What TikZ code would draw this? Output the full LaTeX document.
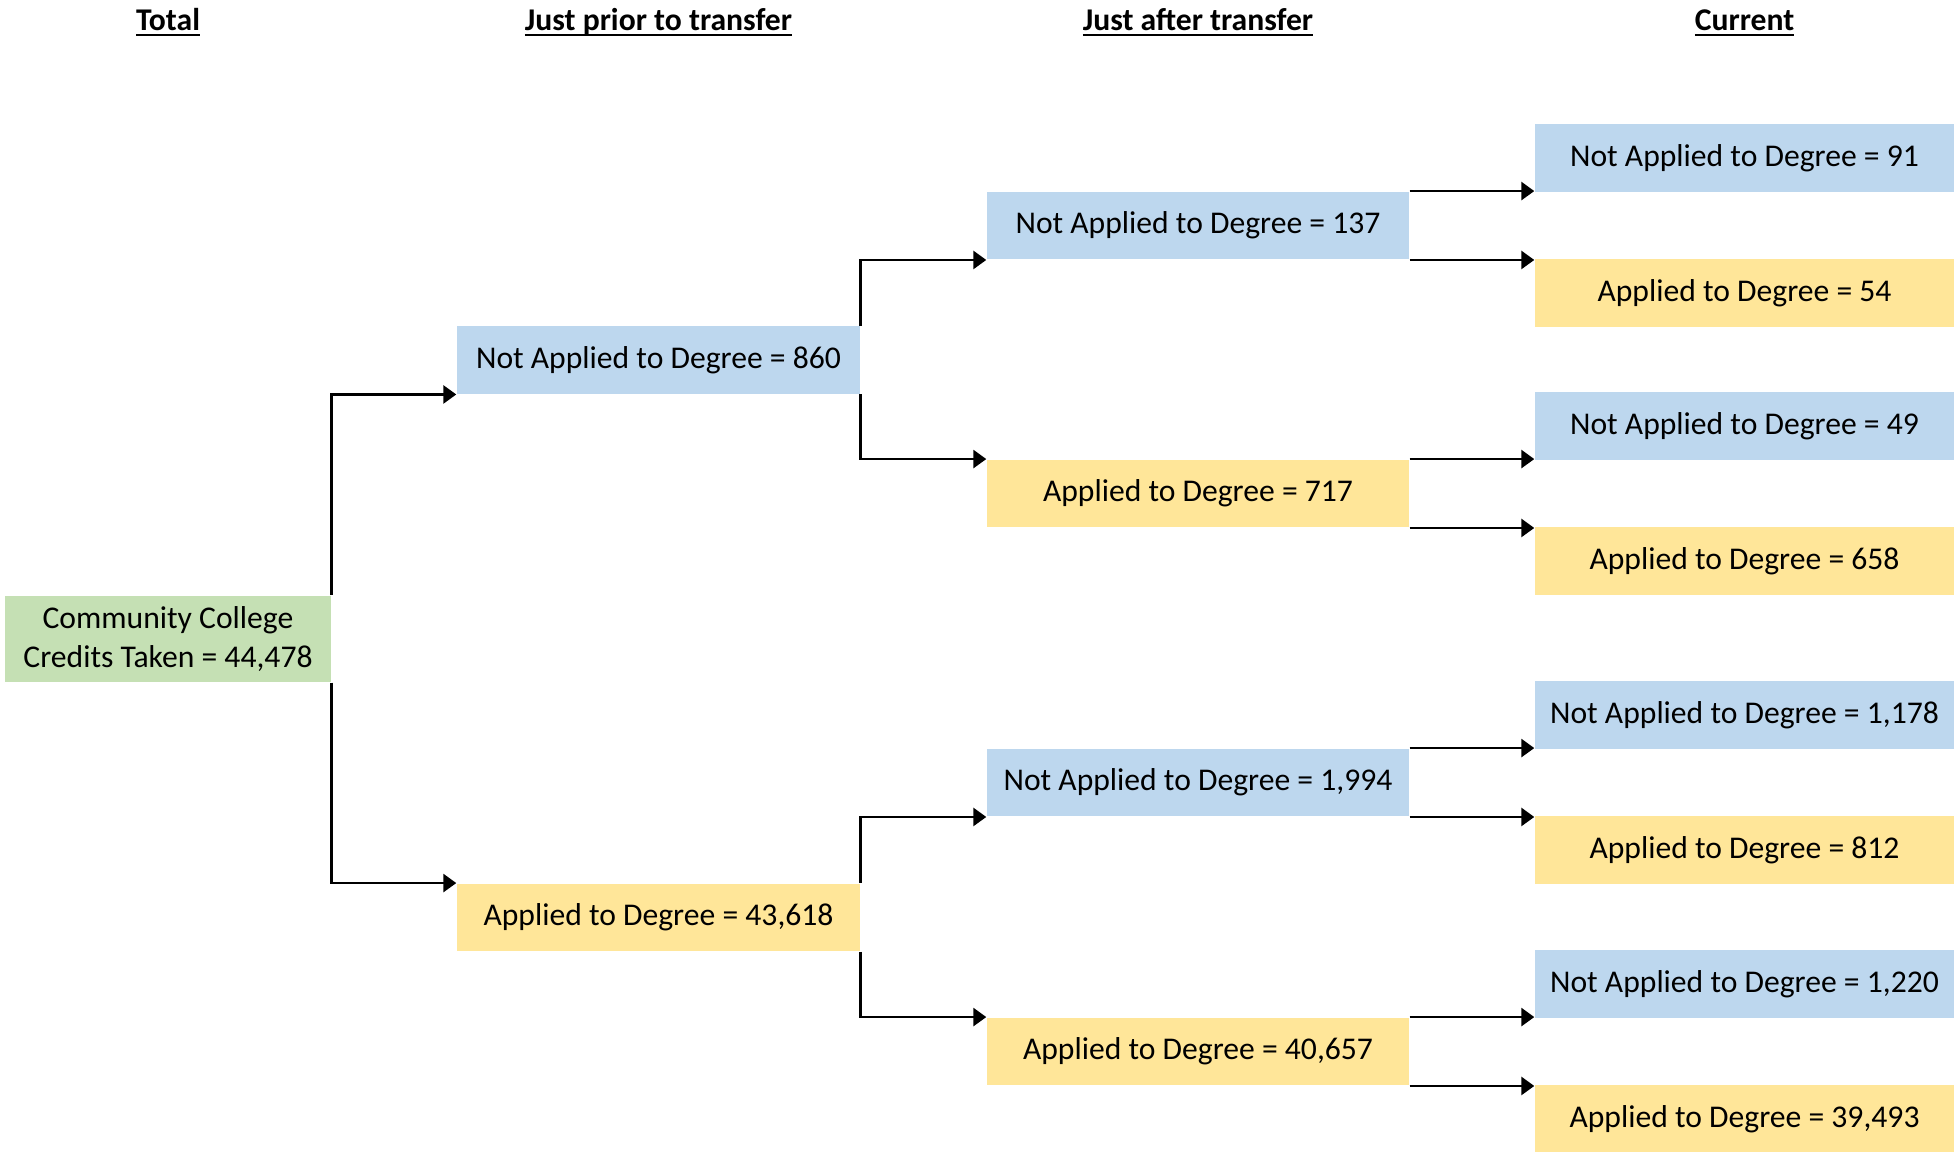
\documentclass[tikz,border=0pt]{standalone}
\usepackage{fontspec}
\setmainfont{Carlito}
\usetikzlibrary{arrows.meta}

\definecolor{notblue}{HTML}{BDD7EE}
\definecolor{appyellow}{HTML}{FFE699}
\definecolor{totgreen}{HTML}{C5E0B4}

% underline at one depth, through the descenders
\newcommand\headline[1]{\underline{\raisebox{0pt}[\height][0pt]{#1}}}

\begin{document}
\begin{tikzpicture}[every node/.append style={font=\fontsize{9}{11}\selectfont},
    box/.style={inner sep=0pt, minimum height=0.675cm, align=center},
    notapp/.style={box, fill=notblue},
    app/.style={box, fill=appyellow},
    head/.style={font=\fontsize{9}{11}\selectfont\bfseries, anchor=base},
    link/.style={line width=0.8pt, -{Triangle[length=1.3mm,width=1.8mm]}}]

    \useasboundingbox (0,0) rectangle (19.54,-11.51);

    \def\xa{1.68}
    \def\xb{6.585}
    \def\xc{11.98}
    \def\xd{17.445}     % last column runs to the right edge

    % column headings
    \node[head] (htot) at (\xa,-0.30) {\headline{Total}};
    \node[head] (hpri) at (\xb,-0.30) {\headline{Just prior to transfer}};
    \node[head] (haft) at (\xc,-0.30) {\headline{Just after transfer}};
    \node[head] (hcur) at (\xd,-0.30) {\headline{Current}};

    % total
    \node[box, fill=totgreen, minimum width=3.26cm, minimum height=0.86cm] (tot) at (\xa,-6.39)
        {Community College\\Credits Taken = 44,478};

    % just prior to transfer
    \node[notapp, minimum width=4.03cm] (p1) at (\xb,-3.60) {Not Applied to Degree = 860};
    \node[app, minimum width=4.03cm] (p2) at (\xb,-9.175) {Applied to Degree = 43,618};

    % just after transfer
    \node[notapp, minimum width=4.22cm] (a1) at (\xc,-2.255) {Not Applied to Degree = 137};
    \node[app, minimum width=4.22cm] (a2) at (\xc,-4.935) {Applied to Degree = 717};
    \node[notapp, minimum width=4.22cm] (a3) at (\xc,-7.825) {Not Applied to Degree = 1,994};
    \node[app, minimum width=4.22cm] (a4) at (\xc,-10.515) {Applied to Degree = 40,657};

    % current, one box height above and below each parent
    \node[notapp, minimum width=4.19cm] (c1) at (\xd,-1.58) {Not Applied to Degree = 91};
    \node[app, minimum width=4.19cm] (c2) at (\xd,-2.93) {Applied to Degree = 54};
    \node[notapp, minimum width=4.19cm] (c3) at (\xd,-4.26) {Not Applied to Degree = 49};
    \node[app, minimum width=4.19cm] (c4) at (\xd,-5.61) {Applied to Degree = 658};
    \node[notapp, minimum width=4.19cm] (c5) at (\xd,-7.15) {Not Applied to Degree = 1,178};
    \node[app, minimum width=4.19cm] (c6) at (\xd,-8.50) {Applied to Degree = 812};
    \node[notapp, minimum width=4.19cm] (c7) at (\xd,-9.84) {Not Applied to Degree = 1,220};
    \node[app, minimum width=4.19cm] (c8) at (\xd,-11.19) {Applied to Degree = 39,493};

    \draw[link]
        (tot.north east) |- (p1.south west)
    ;
    \draw[link]
        (tot.south east) |- (p2.north west)
    ;
    \draw[link] (p1.north east) |- (a1.south west);
    \draw[link] (p1.south east) |- (a2.north west);
    \draw[link] (p2.north east) |- (a3.south west);
    \draw[link] (p2.south east) |- (a4.north west);

    % straight across, kept level with the parent's corner
    \draw[link] (a1.north east) -- (a1.north east -| c1.west);
    \draw[link] (a1.south east) -- (a1.south east -| c2.west);
    \draw[link] (a2.north east) -- (a2.north east -| c3.west);
    \draw[link] (a2.south east) -- (a2.south east -| c4.west);
    \draw[link] (a3.north east) -- (a3.north east -| c5.west);
    \draw[link] (a3.south east) -- (a3.south east -| c6.west);
    \draw[link] (a4.north east) -- (a4.north east -| c7.west);
    \draw[link] (a4.south east) -- (a4.south east -| c8.west);

\end{tikzpicture}
\end{document}
